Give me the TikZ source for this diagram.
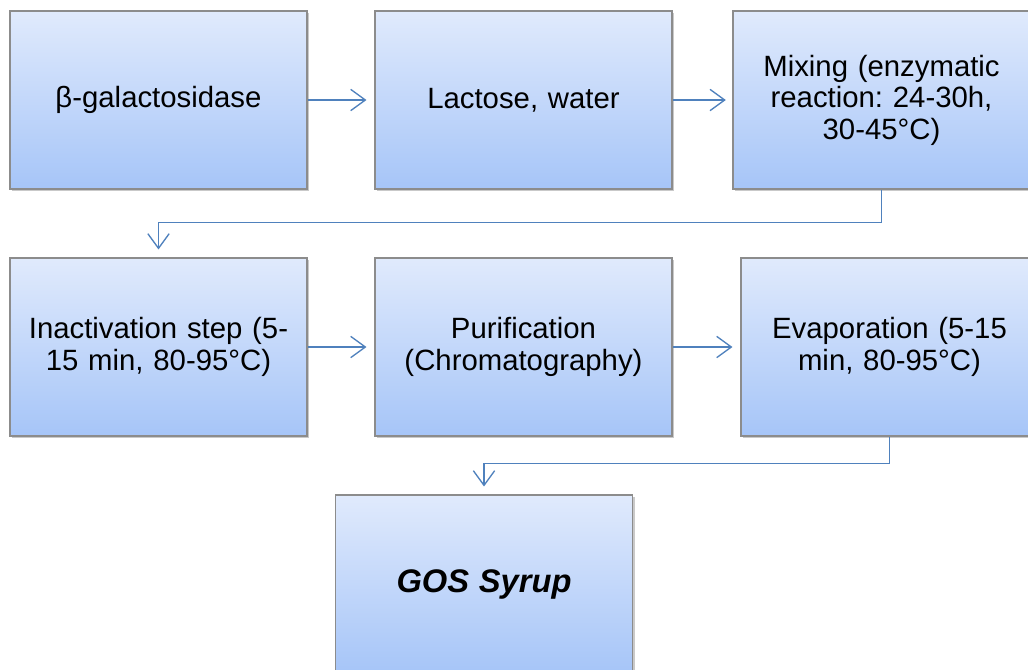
\documentclass[tikz,border=0pt]{standalone}
\usepackage{fontspec}
\setmainfont{Liberation Sans}
\usetikzlibrary{arrows.meta,shadows}
\definecolor{boxtop}{RGB}{224,234,252}
\definecolor{boxbot}{RGB}{166,197,248}
\definecolor{boxline}{RGB}{140,140,140}
\definecolor{arrowblue}{RGB}{79,129,189}
\begin{document}
\begin{tikzpicture}[x=0.75pt,y=-0.75pt,
  stepbox/.style={rectangle, draw=boxline, line width=0.8pt,
    top color=boxtop, bottom color=boxbot,
    minimum width=222.75pt, minimum height=133.5pt,
    align=center, text width=215pt, inner sep=0pt,
    font=\fontsize{22}{23.6}\selectfont\frenchspacing,
    drop shadow={shadow xshift=1.5pt, shadow yshift=-1.8pt, opacity=0.35, fill=black!60}},
  conn/.style={draw=arrowblue, line width=1pt,
    -{Straight Barb[length=11pt,width=16pt,line width=1pt]}}]
\clip (0,0) rectangle (1028,669);
\useasboundingbox (0,0) rectangle (1028,669);
\fill[white] (0,0) rectangle (1028,669);
\node[stepbox] (b1) at (158.5,100) {β-galactosidase};
\node[stepbox] (b2) at (523.5,100) {Lactose, water};
\node[stepbox] (b3) at (881.5,100) {Mixing (enzymatic\\reaction: 24-30h,\\30-45°C)};
\node[stepbox] (b4) at (158.5,347) {Inactivation step (5-\\15 min, 80-95°C)};
\node[stepbox] (b5) at (523.5,347) {Purification\\(Chromatography)};
\node[stepbox] (b6) at (889.5,347) {Evaporation (5-15\\min, 80-95°C)};
\node[stepbox] (b7) at (484,584) {\fontsize{24.5}{26}\selectfont\textbf{\textit{GOS Syrup}}};
\draw[conn, shorten >=6pt] (b1.east) -- (b2.west);
\draw[conn, shorten >=5pt] (b2.east) -- (b3.west);
\draw[conn, shorten >=6pt] (b3.south) -- ++(0,33) -| (b4.north);
\draw[conn, shorten >=6pt] (b4.east) -- (b5.west);
\draw[conn, shorten >=6pt] (b5.east) -- (b6.west);
\draw[conn, shorten >=6pt] (b6.south) -- ++(0,27) -| (b7.north);
\end{tikzpicture}
\end{document}
